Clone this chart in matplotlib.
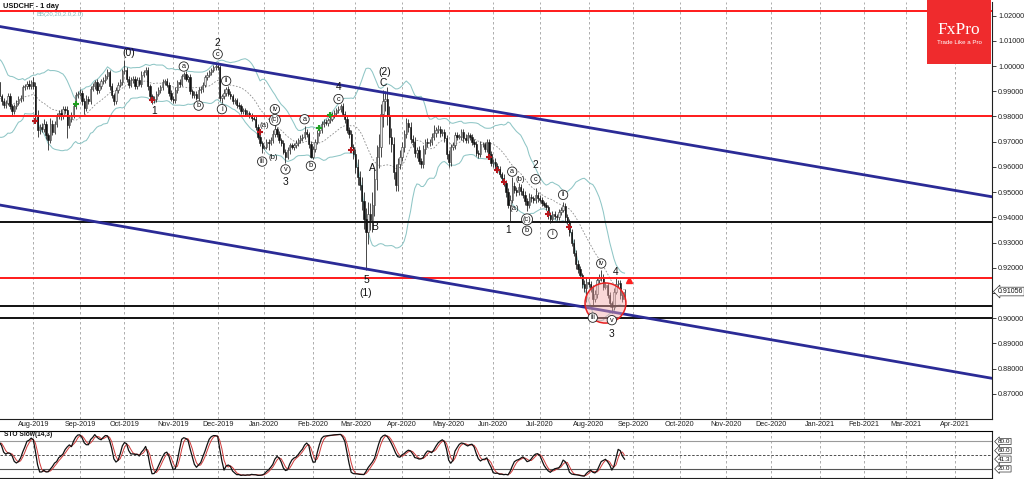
import numpy as np
import pandas as pd
import matplotlib
matplotlib.use("Agg")
import matplotlib.pyplot as plt
import matplotlib.transforms as mtransforms
from matplotlib.patches import Ellipse, Rectangle

plt.rcParams['font.family'] = ['Liberation Sans', 'DejaVu Sans']

# ---------------- data ----------------
symbol_title = "USDCHF - 1 day"
bb_label = "BB(20,20,2.0,2.0)"
sto_label = "STO Slow(14,3)"
start_date = "2019-06-12"          # first bar (20 warm-up bars for the indicators)
first_visible = "2019-07-10"
calendar_end = "2021-05-31"

closes = [
    # warm-up Jun 12 - Jul 9 2019
    0.9935, 0.9950, 0.9980, 0.9990, 0.9985, 0.9900, 0.9790, 0.9760, 0.9755, 0.9770,
    0.9830, 0.9800, 0.9760, 0.9880, 0.9890, 0.9870, 0.9860, 0.9925, 0.9940, 0.9935,
    # Jul 2019
    0.9880, 0.9860, 0.9845, 0.9855, 0.9880, 0.9840, 0.9820, 0.9840, 0.9855, 0.9870,
    0.9875, 0.9915, 0.9920, 0.9930, 0.9920, 0.9935,
    # Aug 2019
    0.9920, 0.9805, 0.9745, 0.9760, 0.9750, 0.9770, 0.9725, 0.9705, 0.9770, 0.9740,
    0.9770, 0.9800, 0.9815, 0.9800, 0.9830, 0.9825, 0.9765, 0.9790, 0.9805, 0.9840,
    0.9885, 0.9890,
    # Sep 2019
    0.9895, 0.9860, 0.9835, 0.9870, 0.9860, 0.9910, 0.9920, 0.9935, 0.9905, 0.9920,
    0.9940, 0.9945, 0.9960, 0.9975, 0.9920, 0.9885, 0.9860, 0.9905, 0.9925, 0.9935,
    0.9980,
    # Oct 2019
    0.9985, 0.9950, 0.9925, 0.9945, 0.9950, 0.9920, 0.9945, 0.9930, 0.9965, 0.9975,
    0.9985, 0.9920, 0.9880, 0.9865, 0.9870, 0.9890, 0.9905, 0.9915, 0.9935, 0.9940,
    0.9925, 0.9895, 0.9870,
    # Nov 2019
    0.9865, 0.9905, 0.9935, 0.9930, 0.9960, 0.9970, 0.9950, 0.9955, 0.9900, 0.9885,
    0.9890, 0.9875, 0.9905, 0.9910, 0.9925, 0.9955, 0.9965, 0.9975, 0.9985, 0.9995,
    1.0000,
    # Dec 2019
    0.9995, 0.9875, 0.9880, 0.9895, 0.9910, 0.9890, 0.9880, 0.9860, 0.9865, 0.9845,
    0.9840, 0.9820, 0.9825, 0.9810, 0.9815, 0.9805, 0.9795, 0.9790, 0.9760, 0.9720,
    0.9695, 0.9675,
    # Jan 2020
    0.9680, 0.9700, 0.9695, 0.9705, 0.9730, 0.9750, 0.9730, 0.9705, 0.9695, 0.9660,
    0.9640, 0.9665, 0.9685, 0.9680, 0.9685, 0.9695, 0.9705, 0.9715, 0.9720, 0.9740,
    0.9730, 0.9690, 0.9640,
    # Feb 2020
    0.9670, 0.9700, 0.9735, 0.9745, 0.9770, 0.9780, 0.9775, 0.9785, 0.9790, 0.9805,
    0.9815, 0.9825, 0.9830, 0.9840, 0.9810, 0.9790, 0.9745, 0.9730, 0.9680, 0.9650,
    # Mar 2020
    0.9600, 0.9560, 0.9530, 0.9465, 0.9395, 0.9340, 0.9415, 0.9390, 0.9450, 0.9550,
    0.9640, 0.9680, 0.9810, 0.9860, 0.9870, 0.9800, 0.9720, 0.9690, 0.9580, 0.9530,
    0.9610, 0.9640,
    # Apr 2020
    0.9680, 0.9730, 0.9775, 0.9760, 0.9710, 0.9700, 0.9655, 0.9665, 0.9625, 0.9610,
    0.9670, 0.9700, 0.9695, 0.9700, 0.9720, 0.9735, 0.9745, 0.9750, 0.9735, 0.9740,
    0.9715, 0.9650,
    # May 2020
    0.9620, 0.9680, 0.9685, 0.9725, 0.9720, 0.9720, 0.9740, 0.9715, 0.9705, 0.9725,
    0.9720, 0.9700, 0.9690, 0.9655, 0.9650, 0.9690, 0.9690, 0.9670, 0.9700, 0.9650,
    0.9615,
    # Jun 2020
    0.9620, 0.9605, 0.9590, 0.9570, 0.9555, 0.9535, 0.9500, 0.9450, 0.9470, 0.9525,
    0.9510, 0.9500, 0.9520, 0.9505, 0.9490, 0.9465, 0.9450, 0.9480, 0.9475, 0.9470,
    0.9490, 0.9475,
    # Jul 2020
    0.9470, 0.9455, 0.9450, 0.9440, 0.9410, 0.9395, 0.9415, 0.9405, 0.9400, 0.9420,
    0.9430, 0.9445, 0.9400, 0.9385, 0.9340, 0.9300, 0.9260, 0.9215, 0.9195, 0.9170,
    0.9135, 0.9120, 0.9145,
    # Aug 2020
    0.9135, 0.9120, 0.9075, 0.9095, 0.9150, 0.9160, 0.9165, 0.9125, 0.9130, 0.9090,
    0.9060, 0.9045, 0.9105, 0.9135, 0.9140, 0.9090, 0.9075, 0.91056,
]

# upper / lower shadow length of each bar, in pips
wick_up_pips = [
    12, 10, 15, 8, 12, 10, 20, 12, 10, 15, 12, 10, 15, 10, 12, 15, 10, 12, 10, 12,
    15, 10, 12, 10, 12, 15, 8, 10, 12, 10, 12, 10, 8, 12, 15, 10,
    22, 15, 20, 12, 15, 18, 12, 10, 25, 15, 12, 15, 12, 15, 10, 12, 15, 10, 12, 15, 12, 10,
    12, 10, 12, 15, 12, 10, 12, 10, 15, 12, 10, 12, 10, 15, 10, 12, 10, 12, 10, 12, 10,
    40, 12, 10, 12, 10, 12, 10, 12, 15, 10, 10, 12, 10, 8, 12, 10, 12, 10, 12, 10, 12, 10, 8,
    10, 12, 10, 12, 10, 8, 12, 10, 15, 10, 12, 10, 12, 10, 12, 10, 12, 10, 8, 10, 12,
    12, 10, 8, 12, 5, 10, 12, 10, 8, 10, 12, 10, 8, 10, 12, 8, 10, 6, 10, 12, 10, 8,
    6, 12, 10, 12, 15, 20, 10, 12, 10, 12, 10, 12, 10, 8, 10, 12, 10, 12, 10, 22, 12, 10, 12,
    12, 10, 12, 10, 12, 10, 8, 10, 8, 12, 10, 8, 10, 10, 12, 10, 15, 12, 15, 12,
    20, 30, 25, 30, 35, 40, 45, 40, 50, 40, 45, 50, 40, 45, 30, 45, 40, 35, 30, 30, 25, 25,
    20, 15, 20, 15, 20, 15, 20, 15, 18, 12, 15, 12, 15, 12, 15, 30, 12, 15, 12, 12, 10, 12,
    15, 12, 15, 12, 15, 12, 10, 12, 15, 12, 10, 12, 10, 12, 10, 12, 8, 10, 12, 10, 12,
    12, 15, 10, 12, 10, 15, 12, 15, 20, 35, 15, 12, 15, 12, 10, 15, 12, 15, 12, 10, 26, 12,
    12, 10, 8, 12, 10, 12, 10, 12, 10, 12, 12, 17, 10, 12, 10, 12, 15, 12, 15, 12, 10, 15, 20,
    15, 12, 10, 15, 12, 15, 25, 10, 12, 10, 12, 10, 15, 25, 12, 10, 12, 10,
]
wick_dn_pips = [
    10, 12, 8, 12, 10, 15, 18, 15, 12, 10, 12, 15, 10, 12, 10, 12, 15, 10, 12, 10,
    12, 15, 10, 12, 10, 12, 20, 10, 12, 10, 12, 15, 10, 12, 10, 12,
    12, 20, 25, 15, 12, 10, 15, 40, 12, 15, 10, 12, 10, 15, 12, 10, 50, 12, 10, 12, 10, 12,
    10, 15, 25, 12, 10, 12, 10, 12, 15, 10, 12, 10, 12, 10, 15, 12, 15, 10, 12, 10, 12,
    12, 15, 12, 10, 12, 10, 12, 10, 12, 10, 12, 15, 12, 15, 10, 12, 10, 12, 10, 12, 10, 12, 10,
    10, 12, 10, 12, 10, 12, 10, 12, 10, 12, 10, 9, 12, 10, 12, 10, 12, 10, 12, 10, 12,
    10, 12, 22, 10, 12, 10, 12, 10, 12, 10, 12, 10, 12, 10, 8, 10, 12, 6, 12, 10, 12, 20,
    6, 10, 28, 10, 12, 10, 12, 10, 12, 10, 24, 10, 12, 10, 12, 10, 12, 10, 12, 10, 12, 15, 5,
    10, 12, 10, 12, 10, 12, 10, 12, 10, 8, 10, 12, 10, 12, 10, 15, 12, 15, 20, 18,
    25, 30, 20, 35, 40, 150, 45, 40, 50, 45, 40, 45, 40, 50, 40, 35, 30, 30, 30, 25, 25, 20,
    15, 20, 15, 20, 15, 20, 15, 20, 15, 14, 15, 20, 15, 12, 15, 12, 15, 12, 15, 12, 15, 20,
    20, 15, 12, 15, 12, 10, 12, 15, 12, 10, 12, 15, 12, 10, 15, 10, 12, 10, 12, 15, 12,
    15, 12, 15, 12, 15, 12, 20, 15, 65, 15, 12, 15, 12, 15, 12, 15, 25, 12, 15, 12, 12, 15,
    10, 12, 10, 12, 15, 18, 12, 10, 12, 10, 12, 10, 15, 12, 15, 12, 15, 20, 15, 12, 15, 15, 55,
    12, 15, 27, 12, 15, 10, 12, 15, 10, 12, 15, 25, 12, 10, 12, 15, 12, 10,
]

# horizontal support / resistance levels
red_levels = [1.0219, 0.9800, 0.9160]
black_levels = [0.9383, 0.9048, 0.9000]

# channel trend lines: two anchor points (date, price)
channel_upper = [("2019-07-10", 1.0157), ("2021-04-26", 0.9482)]
channel_lower = [("2019-07-10", 0.9449), ("2021-04-26", 0.8762)]

# Elliott wave labels: (date, price, text, circled)
wave_labels = [
    ("2019-10-03", 1.0051, "(0)", False),
    ("2019-10-21", 0.9823, "1", False),
    ("2019-11-08", 0.9998, "a", True),
    ("2019-11-19", 0.9843, "b", True),
    ("2019-12-02", 1.0093, "2", False),
    ("2019-12-02", 1.0047, "c", True),
    ("2019-12-04", 0.9829, "i", True),
    ("2019-12-06", 0.9941, "ii", True),
    ("2019-12-31", 0.9621, "iii", True),
    ("2020-01-01", 0.9766, "(a)", False),
    ("2020-01-07", 0.9639, "(b)", False),
    ("2020-01-08", 0.9786, "(c)", True),
    ("2020-01-08", 0.9829, "iv", True),
    ("2020-01-15", 0.9590, "v", True),
    ("2020-01-15", 0.9540, "3", False),
    ("2020-01-28", 0.9789, "a", True),
    ("2020-01-31", 0.9604, "b", True),
    ("2020-02-19", 0.9915, "4", False),
    ("2020-02-19", 0.9869, "c", True),
    ("2020-03-20", 0.9978, "(2)", False),
    ("2020-03-19", 0.9932, "C", False),
    ("2020-03-12", 0.9595, "A", False),
    ("2020-03-13", 0.9363, "B", False),
    ("2020-03-09", 0.9151, "5", False),
    ("2020-03-09", 0.9100, "(1)", False),
    ("2020-06-10", 0.9350, "1", False),
    ("2020-06-12", 0.9581, "a", True),
    ("2020-06-15", 0.9436, "(a)", False),
    ("2020-06-18", 0.9551, "(b)", False),
    ("2020-06-23", 0.9392, "(c)", True),
    ("2020-06-23", 0.9347, "b", True),
    ("2020-06-29", 0.9608, "2", False),
    ("2020-06-29", 0.9551, "c", True),
    ("2020-07-09", 0.9334, "i", True),
    ("2020-07-16", 0.9489, "ii", True),
    ("2020-08-05", 0.9002, "iii", True),
    ("2020-08-11", 0.9217, "iv", True),
    ("2020-08-18", 0.8992, "v", True),
    ("2020-08-18", 0.8937, "3", False),
    ("2020-08-20", 0.9182, "4", False),
]

# trading signals: (date, price, kind)
signals = [
    ("2019-08-02", 0.9782, "sell"), ("2019-08-29", 0.9850, "buy"),
    ("2019-10-18", 0.9866, "sell"), ("2019-12-30", 0.9740, "sell"),
    ("2020-02-06", 0.9753, "buy"), ("2020-02-13", 0.9806, "buy"),
    ("2020-02-27", 0.9667, "sell"), ("2020-05-28", 0.9641, "sell"),
    ("2020-06-03", 0.9588, "sell"), ("2020-06-08", 0.9541, "sell"),
    ("2020-07-07", 0.9413, "sell"), ("2020-07-21", 0.9360, "sell"),
]
up_arrow = ("2020-08-28", 0.9153)
highlight = ("2020-08-13", 0.9060, 19.3, 0.0159)   # centre date, centre price, width (bars), height (price)

price_ticks = [0.87, 0.88, 0.89, 0.90, 0.91, 0.92, 0.93, 0.94, 0.95, 0.96, 0.97,
               0.98, 0.99, 1.00, 1.01, 1.02]
sto_levels = [80, 50, 20]
sto_tag_levels = [80.0, 60.0, 20.0]

# ---------------- preparation ----------------
cal = pd.bdate_range(start_date, calendar_end)
off = cal.get_loc(pd.Timestamp(first_visible))


def pos(d):
    return cal.get_loc(pd.Timestamp(d)) - off


n = len(closes)
assert len(wick_up_pips) == n and len(wick_dn_pips) == n, (n, len(wick_up_pips), len(wick_dn_pips))
x = np.arange(n) - off
c = np.array(closes)
o = np.concatenate([[c[0]], c[:-1]])
hi = np.maximum(o, c) + np.array(wick_up_pips) * 1e-4
lo = np.minimum(o, c) - np.array(wick_dn_pips) * 1e-4

cs = pd.Series(c)
mid = cs.rolling(20).mean()
sd = cs.rolling(20).std(ddof=0)
bb_up, bb_dn = mid + 2 * sd, mid - 2 * sd

hs, ls = pd.Series(hi), pd.Series(lo)
hh, ll = hs.rolling(14).max(), ls.rolling(14).min()
sto_k = 100 * (cs - ll).rolling(3).sum() / (hh - ll).rolling(3).sum()
sto_d = sto_k.rolling(3).mean()

XL = (0.28, 468.4)
YL = (0.8600, 1.0254)

# ---------------- figure ----------------
W, H = 1024, 479
fig = plt.figure(figsize=(W / 100, H / 100), dpi=100)
fig.patch.set_facecolor("white")
ax = fig.add_axes([0, 1 - 419 / H, 992 / W, 417 / H])
ax2 = fig.add_axes([0, 1 - 478 / H, 992 / W, 47 / H])

for a in (ax, ax2):
    a.set_xlim(*XL)
    a.set_facecolor("white")
    for s in ("left", "top"):
        a.spines[s].set_visible(False)
    for s in ("right", "bottom"):
        a.spines[s].set_linewidth(0.8)
        a.spines[s].set_color("#202020")
ax2.spines["top"].set_visible(True)
ax2.spines["top"].set_linewidth(0.8)
ax.set_ylim(*YL)
ax2.set_ylim(0, 103)

# month ticks
months = pd.Series(cal).groupby([cal.year, cal.month]).first()
mpos, mlab = [], []
for d in months:
    p = cal.get_loc(d) - off
    if XL[0] < p < XL[1]:
        mpos.append(p)
        mlab.append(d.strftime("%b-%Y"))
for a in (ax, ax2):
    a.set_xticks(mpos)
    a.grid(axis="x", color="#a0a0a0", lw=0.6, linestyle=(0, (3, 3)))
    a.set_axisbelow(True)
ax.set_xticklabels(mlab)
ax2.set_xticklabels([])
ax.tick_params(axis="x", length=0, pad=1.5, labelsize=5.2, colors="#202020")
ax2.tick_params(axis="x", length=0)

# price axis (the label hidden under the current-price tag is left blank)
last_close = c[-1]
ax.yaxis.tick_right()
ax.set_yticks(price_ticks)
ax.set_yticklabels(["" if abs(v - last_close) < 0.003 else f"{v:.5f}" for v in price_ticks])
ax.tick_params(axis="y", direction="out", length=3, width=0.6, pad=1.5, labelsize=5.2, colors="#202020")
ax2.yaxis.tick_right()
ax2.set_yticks([])

# Bollinger bands
ax.plot(x, bb_up, color="#8fc6c6", lw=0.75, zorder=2)
ax.plot(x, bb_dn, color="#8fc6c6", lw=0.75, zorder=2)
ax.plot(x, mid, color="#8a8a8a", lw=0.6, linestyle=(0, (2, 2)), zorder=2)

# candles
ax.vlines(x, lo, hi, color="#2a2a2a", lw=0.6, zorder=3)
bull = c >= o
body_h = np.maximum(np.abs(c - o), 0.00015)
body_b = np.minimum(o, c)
ax.bar(x[bull], body_h[bull], bottom=body_b[bull], width=0.62, color="#e6e6e6",
       edgecolor="#3a3a3a", linewidth=0.4, zorder=4)
ax.bar(x[~bull], body_h[~bull], bottom=body_b[~bull], width=0.62, color="#111111",
       edgecolor="#111111", linewidth=0.4, zorder=4)

# horizontal levels
for lv in red_levels:
    ax.axhline(lv, color="#ff1a1a", lw=1.4, zorder=5)
for lv in black_levels:
    ax.axhline(lv, color="#111111", lw=1.4, zorder=5)

# channel lines
for (d1, p1), (d2, p2) in (channel_upper, channel_lower):
    x1, x2 = pos(d1), pos(d2)
    slope = (p2 - p1) / (x2 - x1)
    xs = np.array([XL[0] - 5, XL[1] + 5])
    ax.plot(xs, p1 + slope * (xs - x1), color="#2b2b96", lw=2.0, zorder=5, solid_capstyle="butt")

# highlight ellipse
ed, ep, ew, eh = highlight
ax.add_patch(Ellipse((pos(ed), ep), ew, eh, facecolor="#f4a9a9", alpha=0.45, edgecolor="none", zorder=6))
ax.add_patch(Ellipse((pos(ed), ep), ew, eh, facecolor="none", edgecolor="#e82020", lw=1.1, zorder=6))

# signals
for d, p, kind in signals:
    col = "#b8161c" if kind == "sell" else "#22a022"
    ax.plot(pos(d), p, marker="+", ms=5, mew=1.5, color=col, zorder=7)
ax.plot(pos(up_arrow[0]), up_arrow[1], marker="^", ms=4, color="#ff2020", zorder=7)

# wave labels
for d, p, t, circ in wave_labels:
    if circ:
        ax.text(pos(d), p, t, ha="center", va="center", fontsize=5.3, color="#111111", zorder=8,
                bbox=dict(boxstyle="circle,pad=0.16", fc="white", ec="#222222", lw=0.6))
    elif t.startswith("(") and t[1].isalpha():
        ax.text(pos(d), p, t, ha="center", va="center", fontsize=5.6, color="#111111", zorder=8)
    else:
        ax.text(pos(d), p, t, ha="center", va="center", fontsize=7.4, color="#111111", zorder=8)

# titles
tr_main = mtransforms.blended_transform_factory(ax.transAxes, ax.transData)
ax.text(0.003, 1.0249, symbol_title, transform=tr_main,
        ha="left", va="top", fontsize=5.3, fontweight="bold", color="#111111", zorder=9)
ax.text(36.5 / 992, 1.0203, bb_label, transform=tr_main,
        ha="left", va="center", fontsize=4.3, color="#7fb8b8", zorder=9)

# current price tag
ax.text(1.006, last_close, f"{last_close:.5f}", transform=tr_main, ha="left", va="center", fontsize=5,
        color="#111111", clip_on=False, zorder=10,
        bbox=dict(boxstyle="larrow,pad=0.12", fc="white", ec="#333333", lw=0.5))

# stochastic panel
ax2.plot(x, sto_d, color="#d03a3a", lw=0.7, zorder=3)
ax2.plot(x, sto_k, color="#111111", lw=0.9, zorder=4)
ax2.axhline(sto_levels[0], color="#9a9a9a", lw=0.8)
ax2.axhline(sto_levels[1], color="#333333", lw=0.6, linestyle=(0, (3, 2)))
ax2.axhline(sto_levels[2], color="#555555", lw=0.8)
t2 = mtransforms.blended_transform_factory(ax2.transAxes, ax2.transData)
ax2.text(0.004, 95, sto_label, transform=t2,
         ha="left", va="center", fontsize=4.8, fontweight="bold", color="#111111")
tag_vals = sorted(sto_tag_levels + [round(float(sto_k.iloc[-1]), 1)], reverse=True)
for v in tag_vals:
    ax2.text(1.006, v, f"{v:.1f}", transform=t2, ha="left", va="center", fontsize=4.6,
             color="#111111", clip_on=False,
             bbox=dict(boxstyle="larrow,pad=0.1", fc="white", ec="#333333", lw=0.5))

# FxPro logo
fig.patches.append(Rectangle((927 / W, 1 - 64 / H), 64 / W, 64 / H, transform=fig.transFigure,
                             facecolor="#ef2b2d", edgecolor="none", zorder=10))
fig.text(959 / W, 1 - 30 / H, "FxPro", ha="center", va="center", fontsize=12.5,
         family=["Liberation Serif", "DejaVu Serif"], color="white", zorder=11)
fig.text(959 / W, 1 - 42 / H, "Trade Like a Pro", ha="center", va="center", fontsize=4.4,
         color="white", zorder=11)

fig.savefig("out.png", dpi=100, facecolor="white")
